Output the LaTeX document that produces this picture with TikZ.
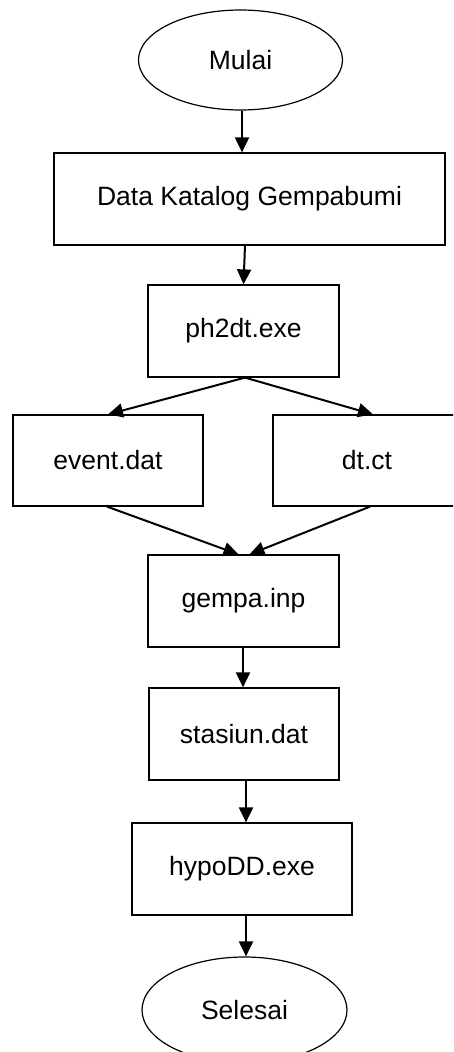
\documentclass[tikz,border=0pt]{standalone}
\usepackage{fontspec}
\setmainfont{Liberation Sans}
\usetikzlibrary{arrows.meta,calc,shapes.geometric}
\begin{document}
\begin{tikzpicture}[x=1pt,y=-1pt,
  every node/.style={font=\fontsize{26.5}{30}\selectfont, inner sep=0pt},
  procbox/.style={draw, line width=1.2pt, rectangle, minimum height=92pt},
  term/.style={draw, line width=1.2pt, ellipse, minimum width=204pt, minimum height=100pt},
  flow/.style={line width=2pt, -{Triangle[length=15pt,width=14pt]}}]
\useasboundingbox (0,0) rectangle (453,1052);
\clip (0,0) rectangle (453,1052);
\node[term] (start) at (240.5,60) {Mulai};
\node[procbox, minimum width=391pt] (data) at (249.5,199) {Data Katalog Gempabumi};
\node[procbox, minimum width=191pt] (ph2dt) at (243.5,331) {ph2dt.exe};
\node[procbox, minimum width=190pt, minimum height=91pt] (event) at (108,460.5) {event.dat};
\node[procbox, minimum width=188pt, minimum height=91pt] (dtct) at (367,460.5) {dt.ct};
\node[procbox, minimum width=191pt] (gempa) at (243.5,601) {gempa.inp};
\node[procbox, minimum width=190pt] (stasiun) at (244,734) {stasiun.dat};
\node[procbox, minimum width=220pt] (hypo) at (242,869) {hypoDD.exe};
\node[term, minimum width=205pt, minimum height=106pt] (end) at (244.5,1010) {Selesai};
\draw[flow] ($(start.south)+(1.5,0)$) -- ($(data.north)+(-7.5,0)$);
\draw[flow] ($(data.south)+(-4.5,0)$) -- ($(ph2dt.north)+(0,0)$);
\draw[flow] ($(ph2dt.south)+(1.5,0)$) -- (event.north);
\draw[flow] ($(ph2dt.south)+(1.5,0)$) -- ($(dtct.north)+(6,0)$);
\draw[flow] ($(event.south)+(-1,0)$) -- ($(gempa.north)+(-5,0)$);
\draw[flow] ($(dtct.south)+(3,0)$) -- ($(gempa.north)+(6,0)$);
\draw[flow] ($(gempa.south)+(-0.5,0)$) -- ($(stasiun.north)+(-1,0)$);
\draw[flow] ($(stasiun.south)+(2,0)$) -- ($(hypo.north)+(4,0)$);
\draw[flow] ($(hypo.south)+(4,0)$) -- ($(end.north)+(1.5,0)$);
\end{tikzpicture}
\end{document}
